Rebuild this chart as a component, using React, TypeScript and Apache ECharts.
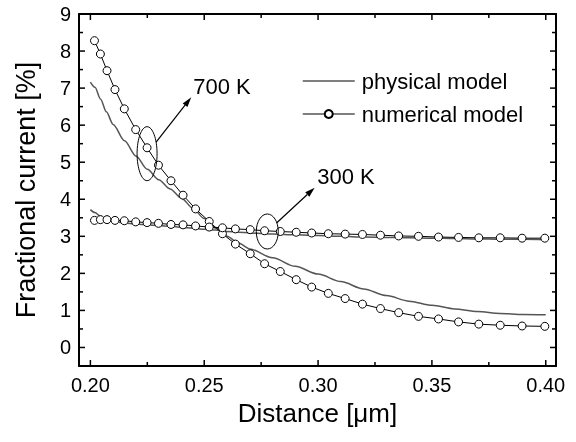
import React, { useEffect, useRef } from 'react';
import * as echarts from 'echarts';

// ---- data ----
const X_NUM = [0.2018, 0.2044, 0.2073, 0.2108, 0.2149, 0.2199, 0.2249, 0.2299, 0.2354, 0.2407, 0.2462, 0.2522, 0.2580, 0.2637, 0.2702, 0.2765, 0.2834, 0.2904, 0.2972, 0.3045, 0.3119, 0.3195, 0.3274, 0.3354, 0.3441, 0.3529, 0.3617, 0.3706, 0.3800, 0.3896, 0.3996];
const NUM_700 = [8.28, 7.92, 7.47, 6.96, 6.44, 5.88, 5.39, 4.92, 4.50, 4.11, 3.74, 3.40, 3.07, 2.79, 2.53, 2.26, 2.05, 1.83, 1.63, 1.46, 1.32, 1.17, 1.05, 0.94, 0.84, 0.77, 0.69, 0.63, 0.60, 0.58, 0.57];
const NUM_300 = [3.43, 3.45, 3.45, 3.43, 3.42, 3.39, 3.37, 3.35, 3.32, 3.31, 3.28, 3.25, 3.23, 3.20, 3.18, 3.15, 3.13, 3.11, 3.09, 3.07, 3.06, 3.05, 3.03, 3.01, 3.00, 2.98, 2.97, 2.96, 2.96, 2.95, 2.95];

const X_PHYS = [0.200, 0.202, 0.2045, 0.207, 0.210, 0.215, 0.220, 0.225, 0.230, 0.235, 0.240, 0.245, 0.250, 0.255, 0.260, 0.265, 0.270, 0.280, 0.290, 0.300, 0.310, 0.320, 0.330, 0.340, 0.350, 0.360, 0.370, 0.380, 0.390, 0.400];
const PHYS_700 = [7.16, 7.02, 6.70, 6.36, 6.02, 5.58, 5.17, 4.81, 4.53, 4.28, 4.03, 3.76, 3.48, 3.22, 3.00, 2.82, 2.66, 2.42, 2.19, 1.98, 1.78, 1.58, 1.40, 1.25, 1.14, 1.04, 0.97, 0.92, 0.89, 0.88];
const PHYS_300 = [3.72, 3.64, 3.54, 3.46, 3.40, 3.36, 3.33, 3.31, 3.29, 3.27, 3.24, 3.22, 3.19, 3.17, 3.13, 3.11, 3.09, 3.06, 3.04, 3.02, 3.00, 2.98, 2.97, 2.96, 2.95, 2.94, 2.93, 2.92, 2.92, 2.91];

const X_MAJOR_TICKS = [0.2, 0.25, 0.3, 0.35, 0.4];
const X_MINOR_TICKS = [0.225, 0.275, 0.325, 0.375];
const Y_MAJOR_TICKS = [0, 1, 2, 3, 4, 5, 6, 7, 8, 9];
const Y_MINOR_TICKS = [0.5, 1.5, 2.5, 3.5, 4.5, 5.5, 6.5, 7.5, 8.5];
const X_STEP = 0.05, Y_STEP = 1;

const SERIES_NAMES = ['physical model', 'numerical model'];
const X_TITLE = 'Distance [μm]';
const Y_TITLE = 'Fractional current [%]';

// annotation anchors (data units)
const ANN_700 = { label: '700 K', ellipse: [0.2249, 5.23], tip: [0.2443, 6.75], text: [0.2452, 7.05] };
const ANN_300 = { label: '300 K', ellipse: [0.2777, 3.13], tip: [0.2985, 4.31], text: [0.2996, 4.62] };

const X_MIN = 0.195, X_MAX = 0.4045, Y_MIN = -0.5, Y_MAX = 9;

const FONT = "'Liberation Sans', Arial, Helvetica, sans-serif";
const zip = (xs: number[], ys: number[]) => xs.map((x, i) => [x, ys[i]]);
const onStep = (v: number, step: number) => Math.abs(v / step - Math.round(v / step)) < 1e-6;

export default function App() {
  const ref = useRef<HTMLDivElement>(null);
  useEffect(() => {
    const chart = echarts.init(ref.current!, null, { renderer: 'svg' });
    const axisLine = () => ({ show: true, onZero: false, lineStyle: { color: '#000', width: 2 } });
    const option: any = {
      animation: false,
      textStyle: { fontFamily: FONT, color: '#000' },
      grid: { left: 79, right: 20, top: 14, bottom: 76 },
      legend: {
        data: [
          { name: SERIES_NAMES[0], itemStyle: { opacity: 0 } },
          { name: SERIES_NAMES[1] },
        ],
        orient: 'vertical',
        left: 302,
        top: 70,
        padding: 0,
        itemGap: 11,
        itemWidth: 52,
        itemHeight: 10,
        textStyle: { fontSize: 22, color: '#000', fontFamily: FONT, padding: [0, 0, 0, 2] },
        lineStyle: { color: '#555', width: 1.5 },
      },
      xAxis: [
        {
          type: 'value', min: X_MIN, max: X_MAX, minInterval: X_STEP, maxInterval: X_STEP, position: 'bottom',
          axisLine: axisLine(), axisTick: { show: false }, splitLine: { show: false },
          axisLabel: { formatter: (v: number) => (onStep(v, X_STEP) ? v.toFixed(2) : ''), fontSize: 20, color: '#000', margin: 9, fontFamily: FONT },
          name: X_TITLE, nameLocation: 'middle', nameGap: 17,
          nameTextStyle: { fontSize: 26, color: '#000', fontFamily: FONT },
        },
        { type: 'value', min: X_MIN, max: X_MAX, position: 'top', axisLine: axisLine(), axisTick: { show: false }, axisLabel: { show: false }, splitLine: { show: false } },
      ],
      yAxis: [
        {
          type: 'value', min: Y_MIN, max: Y_MAX, minInterval: Y_STEP, maxInterval: Y_STEP, splitNumber: 10, position: 'left',
          axisLine: axisLine(), axisTick: { show: false }, splitLine: { show: false },
          axisLabel: { formatter: (v: number) => (onStep(v, Y_STEP) ? String(Math.round(v)) : ''), fontSize: 20, color: '#000', margin: 8, fontFamily: FONT },
          name: Y_TITLE, nameLocation: 'middle', nameGap: 40,
          nameTextStyle: { fontSize: 27, color: '#000', fontFamily: FONT },
        },
        { type: 'value', min: Y_MIN, max: Y_MAX, position: 'right', axisLine: axisLine(), axisTick: { show: false }, axisLabel: { show: false }, splitLine: { show: false } },
      ],
      series: [
        { name: SERIES_NAMES[0], type: 'line', data: zip(X_PHYS, PHYS_700), showSymbol: false, symbol: 'none', smooth: 0.3, smoothMonotone: 'x', lineStyle: { color: '#555', width: 1.5 }, itemStyle: { color: '#555' }, z: 2 },
        { name: SERIES_NAMES[0], type: 'line', data: zip(X_PHYS, PHYS_300), showSymbol: false, symbol: 'none', smooth: 0.3, smoothMonotone: 'x', lineStyle: { color: '#555', width: 1.5 }, itemStyle: { color: '#555' }, z: 2 },
        { name: SERIES_NAMES[1], type: 'line', data: zip(X_NUM, NUM_700), symbol: 'circle', symbolSize: 8, lineStyle: { color: '#000', width: 1 }, itemStyle: { color: '#fff', borderColor: '#000', borderWidth: 1 }, z: 3 },
        { name: SERIES_NAMES[1], type: 'line', data: zip(X_NUM, NUM_300), symbol: 'circle', symbolSize: 8, lineStyle: { color: '#000', width: 1 }, itemStyle: { color: '#fff', borderColor: '#000', borderWidth: 1 }, z: 3 },
      ],
    };
    chart.setOption(option);

    const toPx = (p: number[]) => chart.convertToPixel({ seriesIndex: 0 }, p) as number[];

    // axis ticks (inward, mirrored on all four sides)
    const ticks: any[] = [];
    const tickLine = (x1: number, y1: number, x2: number, y2: number) => {
      ticks.push({ type: 'line', shape: { x1, y1, x2, y2 }, style: { stroke: '#000', lineWidth: 1.5 }, z: 20 });
    };
    const xTicks = (vals: number[], len: number) => vals.forEach((v) => {
      const b = toPx([v, Y_MIN]), t = toPx([v, Y_MAX]);
      tickLine(b[0], b[1], b[0], b[1] - len);
      tickLine(t[0], t[1], t[0], t[1] + len);
    });
    const yTicks = (vals: number[], len: number) => vals.forEach((v) => {
      const l = toPx([X_MIN, v]), r = toPx([X_MAX, v]);
      tickLine(l[0], l[1], l[0] + len, l[1]);
      tickLine(r[0], r[1], r[0] - len, r[1]);
    });
    xTicks(X_MAJOR_TICKS, 6); xTicks(X_MINOR_TICKS, 4);
    yTicks(Y_MAJOR_TICKS, 6); yTicks(Y_MINOR_TICKS, 4);

    const annotate = (a: any, rx: number, ry: number) => {
      const c = toPx(a.ellipse);
      const tip = toPx(a.tip);
      const tx = toPx(a.text);
      const dx = tip[0] - c[0], dy = tip[1] - c[1];
      const t = 1 / Math.sqrt((dx / rx) ** 2 + (dy / ry) ** 2);
      const sx = c[0] + dx * t, sy = c[1] + dy * t;
      const len = Math.hypot(tip[0] - sx, tip[1] - sy);
      const ux = (tip[0] - sx) / len, uy = (tip[1] - sy) / len;
      const hl = 10, hw = 3;
      const bx = tip[0] - ux * hl, by = tip[1] - uy * hl;
      return [
        { type: 'ellipse', shape: { cx: c[0], cy: c[1], rx, ry }, style: { fill: 'none', stroke: '#000', lineWidth: 1 }, z: 10 },
        { type: 'line', shape: { x1: sx, y1: sy, x2: bx, y2: by }, style: { stroke: '#000', lineWidth: 1.2 }, z: 10 },
        { type: 'polygon', shape: { points: [[tip[0], tip[1]], [bx - uy * hw, by + ux * hw], [bx + uy * hw, by - ux * hw]] }, style: { fill: '#000' }, z: 10 },
        { type: 'text', x: tx[0], y: tx[1], style: { text: a.label, fontSize: 22, fontFamily: FONT, fill: '#000', align: 'left', verticalAlign: 'middle' }, z: 10 },
      ];
    };
    chart.setOption({ graphic: [...ticks, ...annotate(ANN_700, 10, 27), ...annotate(ANN_300, 11, 17.5)] });
    return () => chart.dispose();
  }, []);
  return <div ref={ref} style={{ position: 'fixed', left: 0, top: 0, width: 576, height: 442 }} />;
}
